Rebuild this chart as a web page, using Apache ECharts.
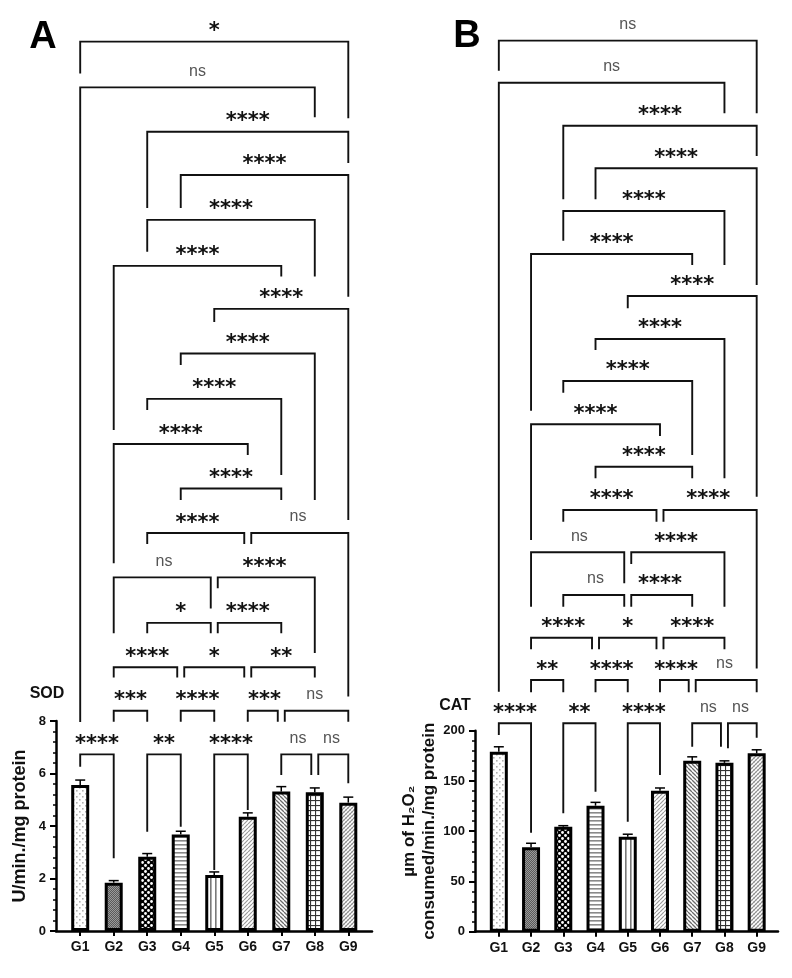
<!DOCTYPE html>
<html><head><meta charset="utf-8">
<script src="https://cdn.jsdelivr.net/npm/echarts@6/dist/echarts.min.js"></script>
<style>html,body{margin:0;padding:0;background:#fff}#c{width:792px;height:978px}</style>
</head><body><div id="c"></div>
<script>
// ---------------- DATA ----------------
const categories = ['G1','G2','G3','G4','G5','G6','G7','G8','G9'];
const sodMean = [5.56, 1.84, 2.83, 3.68, 2.13, 4.35, 5.31, 5.29, 4.89];
const sodSem  = [0.19, 0.08, 0.12, 0.12, 0.12, 0.15, 0.19, 0.16, 0.21];
const catMean = [179, 84, 104.5, 125.4, 94.5, 140.3, 170, 168, 177.5];
const catSem  = [5, 4, 1, 3.3, 2.5, 2.7, 4, 2, 3.5];
const sodTickStep = 2, sodMax = 8;
const catTickStep = 50, catMax = 200;
const sodTitle = 'SOD', catTitle = 'CAT';
const sodUnit = 'U/min./mg protein';
const catUnit = 'µm of H₂O₂\nconsumed/min./mg protein';
// brackets: [from, to, bar level, left leg end, right leg end, label] (values in axis units)
const sodBrackets = [
 ['G1','G9',33.88,32.67,30.96,'*'],
 ['G1','G8',32.14,7.96,31.0,'ns'],
 ['G3','G9',30.45,27.54,29.26,'****'],
 ['G4','G9',28.80,27.54,24.16,'****'],
 ['G3','G8',27.09,25.88,24.93,'****'],
 ['G2','G7',25.34,19.09,24.93,'****'],
 ['G5','G9',23.70,23.2,15.66,'****'],
 ['G4','G8',22.00,21.56,16.42,'****'],
 ['G3','G7',20.27,19.85,17.37,'****'],
 ['G2','G6',18.55,14.01,18.13,'****'],
 ['G4','G7',16.86,16.42,16.42,'****'],
 ['G3','G6',15.16,14.74,14.74,'****'],
 ['G6','G9',15.16,14.74,8.93,'ns'],
 ['G2','G5',13.47,11.34,12.29,'ns'],
 ['G5','G8',13.47,13.06,10.59,'****'],
 ['G3','G5',11.74,11.34,11.34,'*'],
 ['G5','G7',11.74,11.34,11.34,'****'],
 ['G2','G4',10.05,9.66,9.66,'****'],
 ['G4','G6',10.05,9.66,9.66,'*'],
 ['G6','G8',10.05,9.66,9.66,'**'],
 ['G2','G3',8.39,7.97,7.97,'***'],
 ['G4','G5',8.39,7.97,7.97,'****'],
 ['G6','G7',8.39,7.97,7.97,'***'],
 ['G7','G9',8.39,7.97,7.97,'ns'],
 ['G1','G2',6.73,6.26,2.77,'****'],
 ['G3','G4',6.73,3.78,3.97,'**'],
 ['G5','G6',6.73,2.32,4.61,'****'],
 ['G7','G8',6.73,5.94,5.94,'ns'],
 ['G8','G9',6.73,5.94,5.63,'ns']
];
const catBrackets = [
 ['G1','G9',886.6,856.7,814.3,'ns'],
 ['G1','G8',844.8,238.8,814.3,'ns'],
 ['G3','G9',802.0,728.7,771.8,'****'],
 ['G4','G9',759.6,728.7,643.5,'****'],
 ['G3','G8',717.1,687.6,663.4,'****'],
 ['G2','G7',674.3,518.4,663.4,'****'],
 ['G5','G9',632.5,620.3,432.8,'****'],
 ['G4','G8',589.8,578.8,451.1,'****'],
 ['G3','G7',548.0,536.3,474.3,'****'],
 ['G2','G6',504.9,389.8,493.2,'****'],
 ['G4','G7',462.7,451.1,451.1,'****'],
 ['G3','G6',419.6,408,408,'****'],
 ['G6','G9',419.6,408,262,'****'],
 ['G2','G5',377.5,323.4,346.7,'ns'],
 ['G5','G8',377.5,365.9,323.4,'****'],
 ['G3','G5',335.0,323.4,323.4,'ns'],
 ['G5','G7',335.0,323.4,323.4,'****'],
 ['G2','G4',292.5,281,281,'****'],
 ['G4','G6',292.5,281,281,'*'],
 ['G6','G8',292.5,281,281,'****'],
 ['G2','G3',250.4,238.2,238.2,'**'],
 ['G4','G5',250.4,238.2,238.2,'****'],
 ['G6','G7',250.4,238.2,238.2,'****'],
 ['G7','G9',250.4,238.2,238.2,'ns'],
 ['G1','G2',207.4,195.7,98.5,'****'],
 ['G3','G4',207.4,117.8,139.3,'**'],
 ['G5','G6',207.4,109.5,155.9,'****'],
 ['G7','G8',207.4,184,184,'ns'],
 ['G8','G9',207.4,182.5,193,'ns']
];

// ---------------- LAYOUT / STYLE ----------------
const FONT = '"Liberation Sans", Arial, sans-serif';
const panels = [
  {axLeft:56, axRight:372, bottom:931, pxPerUnit:26.25, dataLeft:63.45, dataWidth:301.6, dataMax:34},
  {axLeft:475, axRight:778, bottom:931.7, pxPerUnit:1.005, dataLeft:482.7, dataWidth:290.1, dataMax:900}
];

function tile(w,h,draw){const c=document.createElement('canvas');c.width=w;c.height=h;const g=c.getContext('2d');g.fillStyle='#fff';g.fillRect(0,0,w,h);draw(g,w,h);return {image:c,repeat:'repeat'};}
function diag(g,s,col,lw,back){g.strokeStyle=col;g.lineWidth=lw;g.beginPath();for(let k=-1;k<=1;k++){if(back){g.moveTo(k*s,0);g.lineTo(k*s+s,s);}else{g.moveTo(k*s,s);g.lineTo(k*s+s,0);}}g.stroke();}
const fills = [
  tile(6,6,g=>{g.fillStyle='#b0b0b0';g.fillRect(1,1,1.6,1.6);g.fillRect(4,4,1.6,1.6);}),
  tile(2,2,g=>{g.fillStyle='#5a5a5a';g.fillRect(0,0,2,2);g.fillStyle='#9a9a9a';g.fillRect(0,0,1,1);g.fillRect(1,1,1,1);}),
  tile(6,6,g=>{g.fillStyle='#000';g.fillRect(0,0,6,6);g.fillStyle='#fff';g.beginPath();g.arc(1.5,1.5,1.4,0,7);g.fill();g.beginPath();g.arc(4.5,4.5,1.4,0,7);g.fill();}),
  tile(4,4,g=>{g.fillStyle='#8a8a8a';g.fillRect(0,0,4,1.6);}),
  tile(5,5,g=>{g.fillStyle='#7a7a7a';g.fillRect(0,0,1.6,5);}),
  tile(4,4,g=>diag(g,4,'#9a9a9a',1.2,false)),
  tile(4,4,g=>diag(g,4,'#6a6a6a',1.3,true)),
  tile(5,5,g=>{g.fillStyle='#333';g.fillRect(0,0,5,1.1);g.fillRect(0,0,1.1,5);}),
  tile(4,4,g=>{diag(g,4,'#d0d0d0',1,true);diag(g,4,'#8a8a8a',1.1,false);})
];

function nudges(list){
  return list.map((b,k)=>{let l=0,r=0;list.forEach((o,j)=>{if(j===k||o[2]!==b[2])return;if(o[1]===b[0])l=3.5;if(o[0]===b[1])r=-3.5;});return [l,r];});
}
function bracketSeries(list, axisIdx){
  const nd = nudges(list);
  return {
    type:'custom', xAxisIndex:axisIdx, yAxisIndex:axisIdx, z:5, silent:true,
    data: list.map(b=>[categories.indexOf(b[0]), categories.indexOf(b[1]), b[2], b[3], b[4]]),
    renderItem:(params, api)=>{
      const k = params.dataIndex, lab = list[k][5];
      const i1 = api.value(0), i2 = api.value(1), lv = api.value(2);
      const p1 = api.coord([i1, lv]), p2 = api.coord([i2, lv]);
      const yL = api.coord([i1, api.value(3)])[1], yR = api.coord([i2, api.value(4)])[1];
      const x1 = p1[0] + nd[k][0], x2 = p2[0] + nd[k][1], y = p1[1];
      const star = lab !== 'ns';
      return {type:'group', children:[
        {type:'polyline', shape:{points:[[x1,yL],[x1,y],[x2,y],[x2,yR]]}, style:{stroke:'#111', lineWidth:1.9, fill:null}},
        {type:'text', style:{text:lab, x:(p1[0]+p2[0])/2, y: star ? y-10 : y-16, align:'center', verticalAlign:'middle',
          font: star ? 'bold 21px "DejaVu Sans", sans-serif' : '16px ' + FONT, fill: star ? '#111' : '#555'}}
      ]};
    }
  };
}
function errorSeries(mean, sem, axisIdx){
  return {
    type:'custom', xAxisIndex:axisIdx, yAxisIndex:axisIdx, z:4, silent:true,
    data: mean.map((m,i)=>[i, m, sem[i]]),
    renderItem:(params, api)=>{
      const i = api.value(0), m = api.value(1), s = api.value(2);
      const p = api.coord([i, m]), q = api.coord([i, m + s]);
      return {type:'group', children:[
        {type:'line', shape:{x1:p[0],y1:p[1],x2:q[0],y2:q[1]}, style:{stroke:'#000', lineWidth:1.5}},
        {type:'line', shape:{x1:q[0]-5,y1:q[1],x2:q[0]+5,y2:q[1]}, style:{stroke:'#000', lineWidth:1.5}}
      ]};
    }
  };
}
function barSeries(mean, axisIdx){
  return {
    type:'bar', xAxisIndex:axisIdx, yAxisIndex:axisIdx, barWidth:18, z:3, silent:true,
    data: mean.map((v,i)=>({value:v, itemStyle:{color:fills[i], borderColor:'#000', borderWidth:3}}))
  };
}

const grids = [], xAxes = [], yAxes = [];
function addPanel(P, max, step, unitName, nameGap, nameSize){
  const axTop = P.bottom - max*P.pxPerUnit;
  const dTop = P.bottom - P.dataMax*P.pxPerUnit;
  grids.push({left:P.axLeft, top:axTop, width:P.axRight-P.axLeft, height:max*P.pxPerUnit});
  grids.push({left:P.dataLeft, top:dTop, width:P.dataWidth, height:P.dataMax*P.pxPerUnit});
  const gi = grids.length - 2;
  xAxes.push({gridIndex:gi, type:'value', min:0, max:1, axisLine:{show:true, lineStyle:{color:'#000', width:2.5}},
    axisTick:{show:false}, axisLabel:{show:false}, splitLine:{show:false}});
  yAxes.push({gridIndex:gi, type:'value', min:0, max:max, interval:step,
    axisLine:{show:true, lineStyle:{color:'#000', width:2.5}},
    axisTick:{show:true, length:6, lineStyle:{color:'#000', width:2}},
    minorTick:{show:true, splitNumber:5, length:3, lineStyle:{color:'#000', width:1.5}},
    splitLine:{show:false},
    axisLabel:{color:'#111', fontSize:13, fontWeight:'bold', fontFamily:FONT, margin:10},
    name:unitName, nameLocation:'middle', nameGap:nameGap,
    nameTextStyle:{color:'#111', fontSize:nameSize, fontWeight:'bold', fontFamily:FONT, lineHeight:20}});
  xAxes.push({gridIndex:gi+1, type:'category', data:categories, boundaryGap:true,
    axisLine:{show:false}, axisTick:{show:true, alignWithLabel:true, length:5, lineStyle:{color:'#000', width:2}},
    axisLabel:{color:'#111', fontSize:14, fontWeight:'bold', fontFamily:FONT, margin:9}, splitLine:{show:false}});
  yAxes.push({gridIndex:gi+1, type:'value', min:0, max:P.dataMax, show:false, splitLine:{show:false}});
  return gi+1;
}
const aIdx = addPanel(panels[0], sodMax, sodTickStep, sodUnit, 26, 18);
const bIdx = addPanel(panels[1], catMax, catTickStep, catUnit, 36, 17);

const option = {
  animation:false,
  backgroundColor:'#fff',
  grid:grids, xAxis:xAxes, yAxis:yAxes,
  graphic:[
    {type:'text', style:{text:'A', x:43, y:38, align:'center', verticalAlign:'middle', font:'bold 38px '+FONT, fill:'#000'}},
    {type:'text', style:{text:'B', x:467, y:37, align:'center', verticalAlign:'middle', font:'bold 38px '+FONT, fill:'#000'}},
    {type:'text', style:{text:sodTitle, x:47, y:694, align:'center', verticalAlign:'middle', font:'bold 16px '+FONT, fill:'#111'}},
    {type:'text', style:{text:catTitle, x:455, y:706, align:'center', verticalAlign:'middle', font:'bold 16px '+FONT, fill:'#111'}}
  ],
  series:[
    barSeries(sodMean, aIdx), errorSeries(sodMean, sodSem, aIdx), bracketSeries(sodBrackets, aIdx),
    barSeries(catMean, bIdx), errorSeries(catMean, catSem, bIdx), bracketSeries(catBrackets, bIdx)
  ]
};
const chart = echarts.init(document.getElementById('c'), null, {renderer:'canvas'});
chart.setOption(option);
</script></body></html>
